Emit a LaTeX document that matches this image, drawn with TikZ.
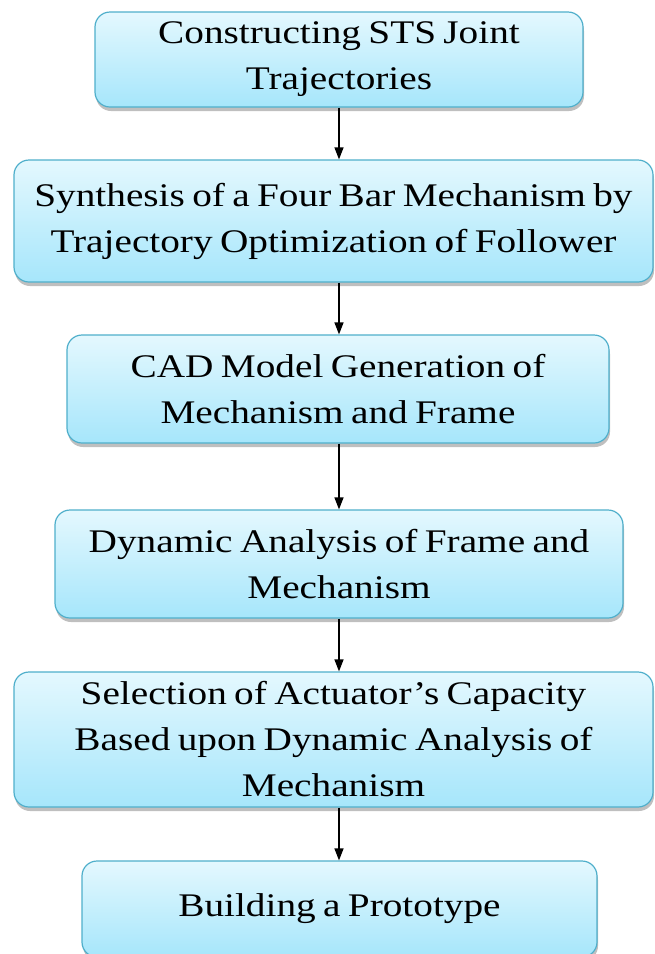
\documentclass[tikz,border=0pt]{standalone}
\usepackage{fontspec}
\setmainfont{Liberation Serif}[FakeStretch=1.19,WordSpace=0.75]
\usetikzlibrary{arrows.meta,shadows}

\definecolor{boxtop}{HTML}{E4F8FE}
\definecolor{boxbot}{HTML}{A6E6FB}
\definecolor{boxline}{HTML}{4FAFCB}

\tikzset{
  stage/.style={draw=boxline, line width=1.2pt, rounded corners=15pt,
    top color=boxtop, bottom color=boxbot, align=center, inner sep=0pt,
    font=\fontsize{33}{46}\selectfont,
    drop shadow={shadow xshift=1pt, shadow yshift=-4pt, opacity=0.5}},
  flow/.style={-{Triangle[length=12pt,width=9pt]}, line width=1.3pt}
}

\begin{document}
\begin{tikzpicture}[x=1pt,y=-1pt]
\useasboundingbox (0,0) rectangle (654,954);
%The stages of the process, top to bottom,
% each one placed at its own height
\node[stage, minimum width=488pt, minimum height=95pt] (a) at (339,59.5)
  {Constructing STS Joint\\Trajectories};
\node[stage, minimum width=639pt, minimum height=122pt] (b) at (333.5,221)
  {Synthesis of a Four Bar Mechanism by\\Trajectory Optimization of Follower};
\node[stage, minimum width=542pt, minimum height=108pt] (c) at (338,389)
  {CAD Model Generation of\\Mechanism and Frame};
\node[stage, minimum width=568pt, minimum height=108pt] (d) at (339,564)
  {Dynamic Analysis of Frame and\\Mechanism};
\node[stage, minimum width=639pt, minimum height=135pt] (e) at (333.5,739.5)
  {Selection of Actuator’s Capacity\\Based upon Dynamic Analysis of\\Mechanism};
\node[stage, minimum width=515pt, minimum height=96pt] (f) at (339.5,909)
  {Building a Prototype};
%the arrows all run down the same line
\draw[flow] (a.south) -- (a.south |- b.north);
\draw[flow] (a.south |- b.south) -- (a.south |- c.north);
\draw[flow] (a.south |- c.south) -- (a.south |- d.north);
\draw[flow] (a.south |- d.south) -- (a.south |- e.north);
\draw[flow] (a.south |- e.south) -- (a.south |- f.north);
\end{tikzpicture}
\end{document}
